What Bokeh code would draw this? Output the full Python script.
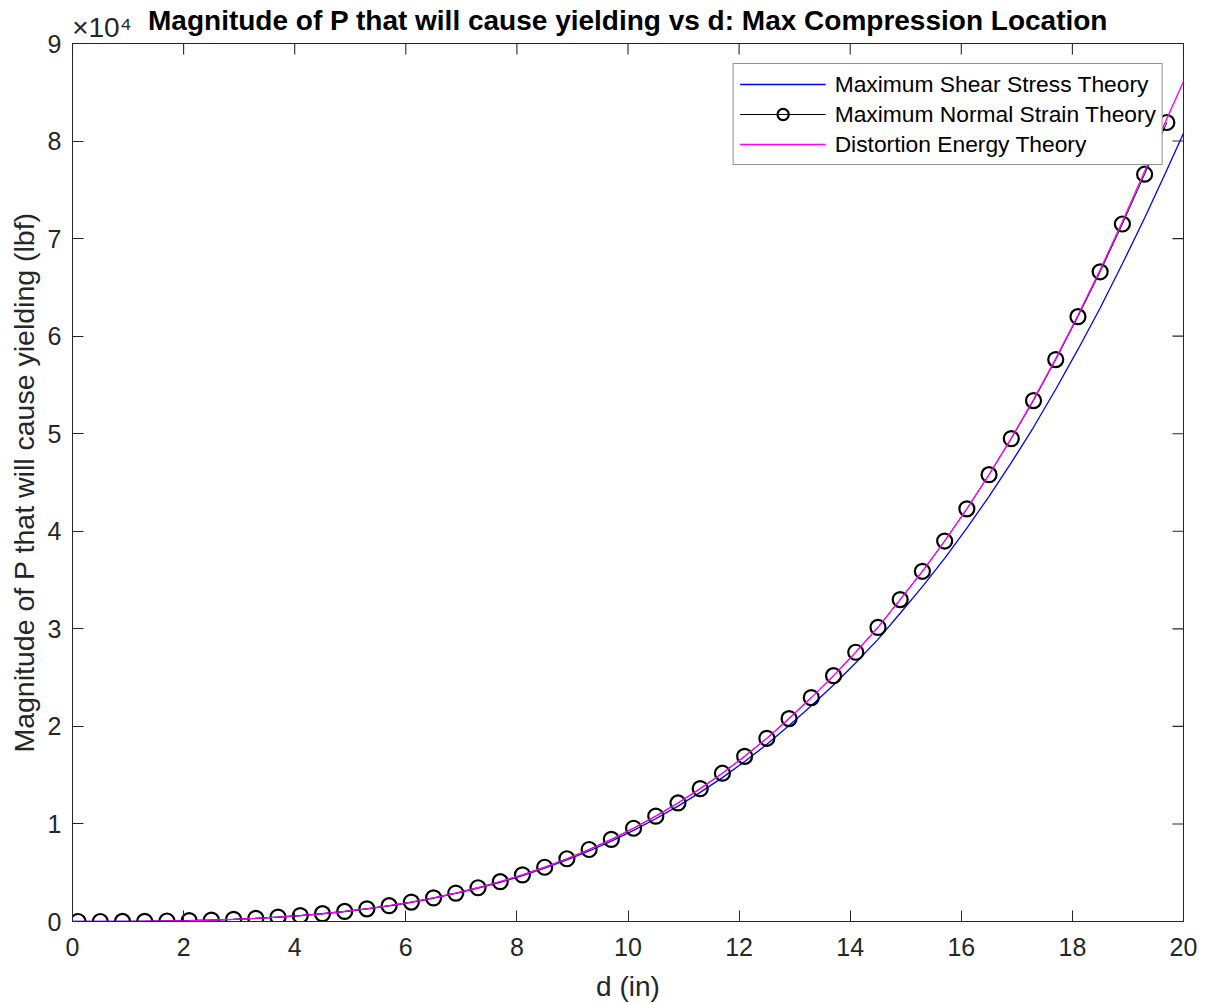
from bokeh.plotting import figure
from bokeh.models import FixedTicker, LinearAxis, Range1d, Legend, LegendItem
from bokeh.embed import file_html
from bokeh.resources import INLINE

# ---------------- data ----------------
x_ticks = [0, 2, 4, 6, 8, 10, 12, 14, 16, 18, 20]
y_ticks = [0, 10000, 20000, 30000, 40000, 50000, 60000, 70000, 80000, 90000]
y_tick_labels = ["0", "1", "2", "3", "4", "5", "6", "7", "8", "9"]

# d (in) where the circle markers sit
d_circ = [0.1, 0.5, 0.9, 1.3, 1.7, 2.1, 2.5, 2.9, 3.3, 3.7,
          4.1, 4.5, 4.9, 5.3, 5.7, 6.1, 6.5, 6.9, 7.3, 7.7,
          8.1, 8.5, 8.9, 9.3, 9.7, 10.1, 10.5, 10.9, 11.3, 11.7,
          12.1, 12.5, 12.9, 13.3, 13.7, 14.1, 14.5, 14.9, 15.3, 15.7,
          16.1, 16.5, 16.9, 17.3, 17.7, 18.1, 18.5, 18.9, 19.3, 19.7]

# Maximum Normal Strain Theory (lbf)
p_mnst = [0, 1, 8, 23, 50, 92, 150, 225, 325, 450,
          610, 800, 1030, 1300, 1620, 1990, 2420, 2910, 3460, 4080,
          4780, 5560, 6430, 7380, 8420, 9560, 10800, 12150, 13620, 15200,
          16930, 18780, 20800, 22950, 25200, 27600, 30150, 33000, 35900, 39000,
          42300, 45800, 49500, 53400, 57600, 62000, 66600, 71500, 76600, 81900]

# d (in) for the two continuous curves
d_line = [0.0, 0.1, 0.5, 0.9, 1.3, 1.7, 2.1, 2.5, 2.9, 3.3, 3.7,
          4.1, 4.5, 4.9, 5.3, 5.7, 6.1, 6.5, 6.9, 7.3, 7.7,
          8.1, 8.5, 8.9, 9.3, 9.7, 10.1, 10.5, 10.9, 11.3, 11.7,
          12.1, 12.5, 12.9, 13.3, 13.7, 14.1, 14.5, 14.9, 15.3, 15.7,
          16.1, 16.5, 16.9, 17.3, 17.7, 18.1, 18.5, 18.9, 19.3, 19.7, 20.0]

# Maximum Shear Stress Theory (lbf)
p_msst = [0, 0, 1, 8, 23, 50, 92, 150, 224, 324, 448,
          607, 795, 1023, 1290, 1606, 1971, 2394, 2875, 3414, 4020,
          4703, 5462, 6308, 7229, 8235, 9335, 10530, 11830, 13240, 14750,
          16400, 18160, 20080, 22120, 24250, 26520, 28920, 31600, 34330, 37230,
          40320, 43580, 47030, 50660, 54560, 58640, 62890, 67420, 72120, 77040, 80800]

# Distortion Energy Theory (lbf)
p_det = [0, 0, 1, 8, 23, 50, 92, 150, 225, 325, 450,
         610, 800, 1030, 1300, 1620, 1990, 2420, 2910, 3460, 4080,
         4780, 5560, 6430, 7380, 8420, 9560, 10800, 12150, 13620, 15200,
         16930, 18780, 20800, 22950, 25200, 27600, 30150, 33000, 35900, 39000,
         42300, 45800, 49550, 53500, 57700, 62150, 66800, 71750, 76900, 82300, 86100]

TITLE = "Magnitude of P that will cause yielding vs d: Max Compression Location"
EXPONENT = "\u00d710\u2074"

# ---------------- styling ----------------
FONT = "Liberation Sans"
AX = "#262626"
X0, X1, Y0, Y1 = 0, 20, 0, 90000

p = figure(width=1207, height=1004, output_backend="svg", toolbar_location=None,
           title=None,
           x_range=Range1d(X0, X1), y_range=Range1d(Y0, Y1),
           min_border_left=72, min_border_right=24, min_border_top=43, min_border_bottom=82)

p.xgrid.visible = False
p.ygrid.visible = False
p.outline_line_color = AX
p.outline_line_width = 1
p.outline_line_alpha = 1

# inward ticks on the top and right edges of the box (MATLAB "box on")
tick_dx = (X1 - X0) * 11 / 1111.0
tick_dy = (Y1 - Y0) * 11 / 879.0
p.segment(x0=x_ticks, y0=[Y1] * len(x_ticks), x1=x_ticks, y1=[Y1 - tick_dy] * len(x_ticks),
          line_color=AX, line_width=1.1)
p.segment(x0=[X1] * len(y_ticks), y0=y_ticks, x1=[X1 - tick_dx] * len(y_ticks), y1=y_ticks,
          line_color=AX, line_width=1.1)

blue = p.line(d_line, p_msst, line_color="#0000FF", line_width=1.3)
black = p.line(d_circ, p_mnst, line_color="#000000", line_width=1.0)
circ = p.scatter(d_circ, p_mnst, marker="circle", size=15, fill_color=None,
                 line_color="#000000", line_width=2.2)
mag = p.line(d_line, p_det, line_color="#FF00FF", line_width=1.35)


def style_axis(ax, ticks):
    ax.ticker = FixedTicker(ticks=ticks)
    ax.major_tick_in = 11
    ax.major_tick_out = 0
    ax.minor_tick_line_color = None
    ax.axis_line_color = AX
    ax.major_tick_line_color = AX
    ax.major_label_text_font = FONT
    ax.major_label_text_font_size = "25px"
    ax.major_label_text_color = AX
    ax.axis_label_text_font = FONT
    ax.axis_label_text_font_size = "28px"
    ax.axis_label_text_font_style = "normal"
    ax.axis_label_text_color = AX


xa = p.xaxis[0]
style_axis(xa, x_ticks)
xa.axis_label = "d (in)"
xa.major_label_standoff = 16
xa.axis_label_standoff = 12

ya = p.yaxis[0]
style_axis(ya, y_ticks)
ya.axis_label = "Magnitude of P that will cause yielding (lbf)"
ya.axis_label_text_font_size = "28.5px"
ya.major_label_overrides = {t: s for t, s in zip(y_ticks, y_tick_labels)}
ya.major_label_standoff = 11
ya.axis_label_standoff = 5

# top axis: carries the "x10^4" exponent as its only tick label and the bold title
exp_x = 0.53
top = LinearAxis(ticker=FixedTicker(ticks=[exp_x]),
                 major_label_overrides={exp_x: EXPONENT})
top.major_tick_line_color = None
top.minor_tick_line_color = None
top.major_tick_in = 0
top.major_tick_out = 0
top.axis_line_color = AX
top.major_label_text_font = FONT
top.major_label_text_font_size = "28px"
top.major_label_text_color = AX
top.major_label_standoff = 1
top.axis_label = TITLE
top.axis_label_text_font = FONT
top.axis_label_text_font_size = "28px"
top.axis_label_text_font_style = "bold"
top.axis_label_text_color = "black"
top.axis_label_standoff = -27
p.add_layout(top, "above")

legend = Legend(items=[
    LegendItem(label="Maximum Shear Stress Theory", renderers=[blue]),
    LegendItem(label="Maximum Normal Strain Theory", renderers=[black, circ]),
    LegendItem(label="Distortion Energy Theory", renderers=[mag]),
], location="top_right", margin=20, padding=6, spacing=2,
    glyph_width=86, glyph_height=28, label_height=28, label_standoff=9,
    label_text_font=FONT, label_text_font_size="22.8px", label_text_color="black",
    border_line_color=AX, border_line_width=1, background_fill_color="white",
    background_fill_alpha=1)
p.add_layout(legend)

open("out.html", "w").write(file_html(p, INLINE))
